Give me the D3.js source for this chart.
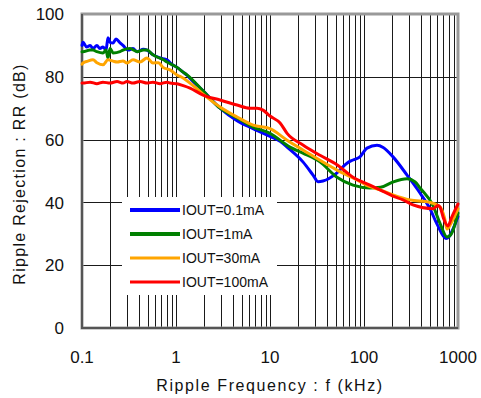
<!DOCTYPE html>
<html>
<head>
<meta charset="utf-8">
<script src="https://cdn.jsdelivr.net/npm/d3@7"></script>
<style>
html,body{margin:0;padding:0;background:#fff;}
svg{display:block;}
text{font-family:"Liberation Sans",Arial,sans-serif;fill:#111;}
</style>
</head>
<body>
<svg id="chart" width="481" height="398"></svg>
<script>
// ---- data ----
const seriesNames = ["IOUT=0.1mA", "IOUT=1mA", "IOUT=30mA", "IOUT=100mA"];
const seriesColors = ["#0000ff", "#008000", "#ffa500", "#ff0000"];

const freqBlue = [0.1,0.1025,0.112,0.122,0.131,0.144,0.155,0.167,0.18,0.189,0.199,0.214,0.23,0.254,0.273,0.309,0.349,0.385,0.45,0.491,0.569,0.676,0.802,0.9,1.025,1.19,1.31,1.41,1.94,2.94,4.46,6.6,10,12.8,15.2,22.4,28.7,32.4,36.6,51.6,65.9,76.4,90.6,107.6,137.5,160,203.6,287,394,503,600,745,800,900,1000];
const rrBlue   = [90,91,89.5,90,89,90,89,89.5,88.5,92.4,91,90.8,92,90.8,90,88.5,89,88,88.8,88.5,87,86,85.4,84,83,81.5,80.5,79.5,75.5,70,66,63.5,61,59.5,57.6,52.9,48.7,46.6,46.8,49.4,52.5,53.5,54.5,57.3,58.2,57.5,54.5,48.7,43,38,33,28.5,29,32,35.5];

const freqGreen = [0.1,0.1025,0.122,0.131,0.144,0.167,0.18,0.189,0.199,0.214,0.254,0.273,0.324,0.385,0.45,0.491,0.569,0.628,0.727,0.802,1.025,1.19,1.31,1.94,2.94,4.46,6.6,10,16.3,22.4,34,51.6,76.4,115.8,150,203.6,287,350,394,542,650,764,850,1000];
const rrGreen   = [88,88,88.5,88.5,88,87.6,88.5,86,89,87.6,88,88.5,89,88,88.5,88.5,87,86.3,85.5,84.7,83,81.5,80.6,75.5,70,66.9,64,62,57.6,55.7,52.9,48,45.5,44.6,44.8,46.5,47.5,46.5,44.6,39,33,29,30,36.6];

const freqOrange = [0.1,0.1025,0.115,0.131,0.144,0.167,0.189,0.214,0.236,0.273,0.301,0.349,0.414,0.491,0.569,0.65,0.727,0.863,1.025,1.19,1.41,1.94,2.94,4.46,6.6,10,15.2,22.4,51.6,76.4,115.8,148,203.6,308,503,644,720,764,850,1000];
const rrOrange   = [84,84.4,85,85.4,84.5,83.8,85.4,85,84.7,85,84.4,85.4,84.7,86,84.4,84.5,83,82.2,80.6,79.6,78,74.5,70.4,67.2,64.6,63.5,59.8,56.7,50.3,47.8,45,44,42.4,40.8,40,38.5,35,31.5,33.5,38];

const freqRed = [0.1,0.1025,0.122,0.144,0.167,0.199,0.236,0.273,0.301,0.349,0.414,0.491,0.569,0.676,0.802,0.863,1.025,1.19,1.41,1.94,2.94,4.46,6.12,7.27,8.43,10,12.8,15.2,22.4,34,51.6,76.4,115.8,148,203.6,260,332,542,612,644,700,783,850,1000];
const rrRed   = [78,78,78.3,77.8,78.3,78,78.5,78,78.5,78,78.5,78,78.3,77.8,78.3,78,77.8,77.2,76.4,74.2,72.6,71,70,70,69.4,67.5,65.3,62,58.3,55,52,48,45.5,44,42,40.8,39.2,38,39,38.5,35,32.5,35,39.5];

const xTickValues = [0.1, 1, 10, 100, 1000];
const xTickLabels = ["0.1", "1", "10", "100", "1000"];
const yTickValues = [0, 20, 40, 60, 80, 100];
const xTitle = "Ripple Frequency : f (kHz)";
const yTitle = "Ripple Rejection : RR (dB)";

// ---- drawing ----
const svg = d3.select("#chart");
const L = 82, R = 458, T = 14, B = 328;
const x = d3.scaleLog().domain([0.1, 1000]).range([L, R]);
const y = d3.scaleLinear().domain([0, 100]).range([B, T]);

// minor + major vertical gridlines
const vGrid = [];
for (let d = 0.1; d < 1000; d *= 10) {
  for (let k = 1; k <= 10; k++) {
    const v = +(d * k).toPrecision(6);
    if (v > 0.1 && v < 1000 && !vGrid.includes(v)) vGrid.push(v);
  }
}
const grid = svg.append("g");
grid.selectAll("line.v").data(vGrid).enter().append("line")
  .attr("x1", d => Math.round(x(d)) + 0.5).attr("x2", d => Math.round(x(d)) + 0.5)
  .attr("y1", T).attr("y2", B)
  .attr("stroke", "#1a1a1a").attr("stroke-width", 1);
grid.selectAll("line.h").data([20, 40, 60, 80]).enter().append("line")
  .attr("x1", L).attr("x2", R)
  .attr("y1", d => Math.round(y(d)) + 0.5).attr("y2", d => Math.round(y(d)) + 0.5)
  .attr("stroke", "#1a1a1a").attr("stroke-width", 1);

// legend background (covers gridlines)
svg.append("rect").attr("x", 122).attr("y", 197).attr("width", 155).attr("height", 98)
  .attr("fill", "#fff");

// frame
svg.append("rect").attr("x", L).attr("y", T).attr("width", R - L).attr("height", B - T)
  .attr("fill", "none").attr("stroke", "#999").attr("stroke-width", 3);
svg.append("path").attr("d", `M${L},${T}V${B}H${R}`)
  .attr("fill", "none").attr("stroke", "#555").attr("stroke-width", 2);

// curves
const series = [
  {f: freqBlue, v: rrBlue, w: 3},
  {f: freqGreen, v: rrGreen, w: 3},
  {f: freqOrange, v: rrOrange, w: 3},
  {f: freqRed, v: rrRed, w: 3}
];
const line = d3.line().x(d => x(d[0])).y(d => y(d[1])).curve(d3.curveMonotoneX);
series.forEach((s, i) => {
  svg.append("path")
    .attr("d", line(s.f.map((f, j) => [f, s.v[j]])))
    .attr("fill", "none").attr("stroke", seriesColors[i])
    .attr("stroke-width", s.w).attr("stroke-linejoin", "round").attr("stroke-linecap", "round");
});

// legend
const legY = [210, 234, 258, 282];
seriesNames.forEach((n, i) => {
  svg.append("line").attr("x1", 130).attr("x2", 180).attr("y1", legY[i]).attr("y2", legY[i])
    .attr("stroke", seriesColors[i]).attr("stroke-width", i < 2 ? 4 : 3);
  svg.append("text").attr("x", 182).attr("y", legY[i]).attr("dy", "0.36em")
    .attr("font-size", 14).text(n);
});

// y tick labels
svg.selectAll("text.yt").data(yTickValues).enter().append("text")
  .attr("x", 64).attr("y", d => y(d)).attr("dy", "0.36em")
  .attr("text-anchor", "end").attr("font-size", 17).text(d => d);

// x tick labels
svg.selectAll("text.xt").data(xTickValues).enter().append("text")
  .attr("x", d => x(d)).attr("y", 357).attr("dy", "0.36em")
  .attr("text-anchor", "middle").attr("font-size", 17).text((d, i) => xTickLabels[i]);

// titles
svg.append("text").attr("x", 270).attr("y", 385).attr("dy", "0.36em")
  .attr("text-anchor", "middle").attr("font-size", 16).attr("letter-spacing", 1.6).text(xTitle);
svg.append("text").attr("transform", "translate(19,174) rotate(-90)").attr("dy", "0.36em")
  .attr("text-anchor", "middle").attr("font-size", 16).attr("letter-spacing", 1.3).text(yTitle);
</script>
</body>
</html>
